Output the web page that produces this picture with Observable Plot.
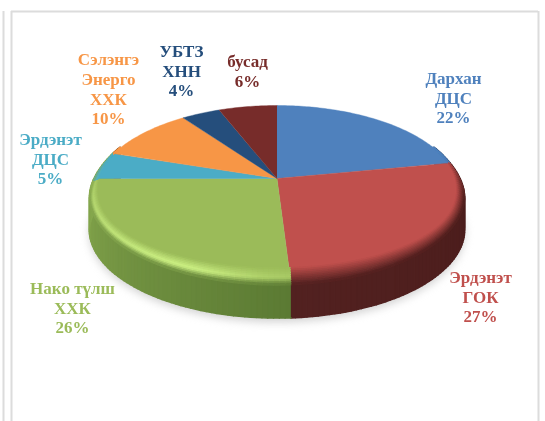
<!DOCTYPE html>
<html>
<head>
<meta charset="utf-8">
<style>html,body{margin:0;padding:0;background:#fff}svg{display:block}</style>
<script src="https://cdn.jsdelivr.net/npm/d3@7"></script>
<script src="https://cdn.jsdelivr.net/npm/@observablehq/plot@0.6"></script>
</head>
<body>
<div id="chart"></div>
<script>
// Data
const categories = ["Дархан\nДЦС", "Эрдэнэт\nГОК", "Нако түлш\nХХК", "Эрдэнэт\nДЦС", "Сэлэнгэ\nЭнерго\nХХК", "УБТЗ\nХНН", "бусад"];
const shares = [22, 27, 26, 5, 10, 4, 6];

// Styling
const topColors  = ["#4f81bd", "#c0504d", "#9bbb59", "#4bacc6", "#f79646", "#254e7c", "#772c2a"];
const textColors = ["#4f81bd", "#c0504d", "#9bbb59", "#4bacc6", "#f79646", "#254e7c", "#772c2a"];
const wallFrom   = ["#3a5f8c", "#4a1c1b", "#5b7a33", "#86a84e", "#b06a30", "#1a3759", "#551f1e"];
const wallTo     = ["#3a5f8c", "#522120", "#86a84e", "#86a84e", "#b06a30", "#1a3759", "#551f1e"];
const rimLight   = [0, 0, 1, 0.4, 0, 0, 0];

// Layout of the labels and the page frame, in page units
const labelX = [453, 480, 72, 50, 108, 181, 247];
const labelY = [97, 296, 307, 158, 88, 70, 70];
const frameLeft = [3, 11], frameRight = 538, frameTop = 11, pageW = 545, pageH = 421;

// Tilted disc: a circle seen in perspective
const cx = 276.5, cy = 178, A = 180, B = 84.4, k = 0.156, depth = 33, rimGrow = 0.03, rimDrop = 3, rimLift = 9;
const project = (r, th, drop = 0) => {
  const u = r * Math.sin(th), v = r * Math.cos(th), p = 1 / (1 + k * v);
  return [cx + A * u * p, cy - B * v * p + drop];
};
const rad = Math.PI / 180;
const arcs = d3.pie().sort(null)(shares);

const polys = {shadow: [], wall: [], top: [], bevel: []};
let id = 0;
const push = (layer, pts, color) => {
  const z = id++;
  pts.forEach(([x, y]) => polys[layer].push({x, y, z, color}));
};

// shadow under the disc
push("shadow", d3.range(0, 360, 3).map(d => project(1 + rimGrow, d * rad, depth + 7)), "#b4b4b4");

const smooth = (a, b, x) => { const t = Math.max(0, Math.min(1, (x - a) / (b - a))); return t * t * (3 - 2 * t); };
const rows = 10, step = 1.5 * rad, reach = 112 * rad;
const fadeAt = th => smooth(reach, 75 * rad, Math.abs(th - Math.PI));
const rimR = (t, th) => 1 + (t * (rimGrow + 0.015) - 0.015) * fadeAt(th);
const rimD = (t, th) => {
  const c = Math.min(0, Math.cos(th));
  return (-rimLift * c * c * (1 - t) + rimDrop * t) * fadeAt(th);
};
const glowAt = th => {
  const d = th / rad;
  return d < 205 ? 0.3 + 0.7 * smooth(176, 205, d) : 1 - 0.55 * smooth(205, 275, d);
};

arcs.forEach((s, i) => {
  // top face
  const n = Math.ceil((s.endAngle - s.startAngle) / rad);
  const pts = [[cx, cy]];
  for (let j = 0; j <= n; j++) pts.push(project(1, s.startAngle + (s.endAngle - s.startAngle) * j / n));
  push("top", pts, topColors[i]);

  // walls and rounded rim, front part only
  for (let a = s.startAngle; a < s.endAngle - 1e-6; a += step) {
    const b = Math.min(a + step, s.endAngle), m = (a + b) / 2;
    if (Math.abs(m - Math.PI) > reach) continue;
    const frac = (m - s.startAngle) / (s.endAngle - s.startAngle);
    const wall = d3.interpolateRgb(wallFrom[i], wallTo[i])(frac);
    push("wall", [project(rimR(1, a), a, rimD(1, a) - 1), project(rimR(1, b), b, rimD(1, b) - 1),
                  project(rimR(1, b), b, rimDrop * fadeAt(b) + depth), project(rimR(1, a), a, rimDrop * fadeAt(a) + depth)], wall);
    const fade = fadeAt(m);
    const glow = rimLight[i] * glowAt(m);
    const lit = d3.interpolateRgb(topColors[i], "#cdf184")(glow);
    for (let t = 0; t < rows; t++) {
      const t0 = t / rows, t1 = (t + 1) / rows, tm = (t0 + t1) / 2;
      const shade = glow > 0
        ? (tm < 0.6 ? d3.interpolateRgb(topColors[i], lit)(tm / 0.6) : d3.interpolateRgb(lit, wall)((tm - 0.6) / 0.4))
        : d3.interpolateRgb(topColors[i], wall)(tm);
      const color = d3.interpolateRgb(topColors[i], shade)(fade);
      push("bevel", [project(rimR(t0, a), a, rimD(t0, a)), project(rimR(t0, b), b, rimD(t0, b)),
                     project(rimR(t1, b), b, rimD(t1, b)), project(rimR(t1, a), a, rimD(t1, a))], color);
    }
  }
});

const labels = categories.map((name, i) => ({
  text: `${name}\n${shares[i]}%`, x: labelX[i], y: labelY[i], color: textColors[i]
}));

const face = (layer, extra = {}) => Plot.line(polys[layer], {
  x: "x", y: "y", z: "z", fill: "color", stroke: "color", strokeWidth: 1, curve: "linear", ...extra
});

const chart = Plot.plot({
  width: pageW, height: pageH, margin: 0,
  style: {background: "#fff"},
  x: {domain: [0, pageW], range: [0, pageW], axis: null},
  y: {domain: [0, pageH], range: [0, pageH], axis: null},
  color: {type: "identity"},
  marks: [
    Plot.ruleX(frameLeft, {y1: frameTop, y2: pageH, stroke: "#dcdcdc", strokeWidth: 2}),
    Plot.ruleX([frameRight], {y1: frameTop, y2: pageH, stroke: "#dcdcdc", strokeWidth: 2}),
    Plot.ruleY([frameTop], {x1: frameLeft[1], x2: frameRight, stroke: "#dcdcdc", strokeWidth: 2}),
    face("shadow", {strokeWidth: 0, opacity: 0.6, imageFilter: "blur(4px)"}),
    face("wall", {strokeWidth: 1.6, imageFilter: "blur(0.5px)"}),
    face("top", {strokeWidth: 0.4}),
    face("bevel", {strokeWidth: 1.2, imageFilter: "blur(0.5px)"}),
    Plot.text(labels, {
      x: "x", y: "y", text: "text", fill: "color",
      fontFamily: "Liberation Serif", fontWeight: "bold", fontSize: 17,
      lineHeight: 1.15, textAnchor: "middle", lineAnchor: "middle",
      imageFilter: "blur(0.3px)"
    })
  ]
});
document.getElementById("chart").append(chart);
</script>
</body>
</html>
